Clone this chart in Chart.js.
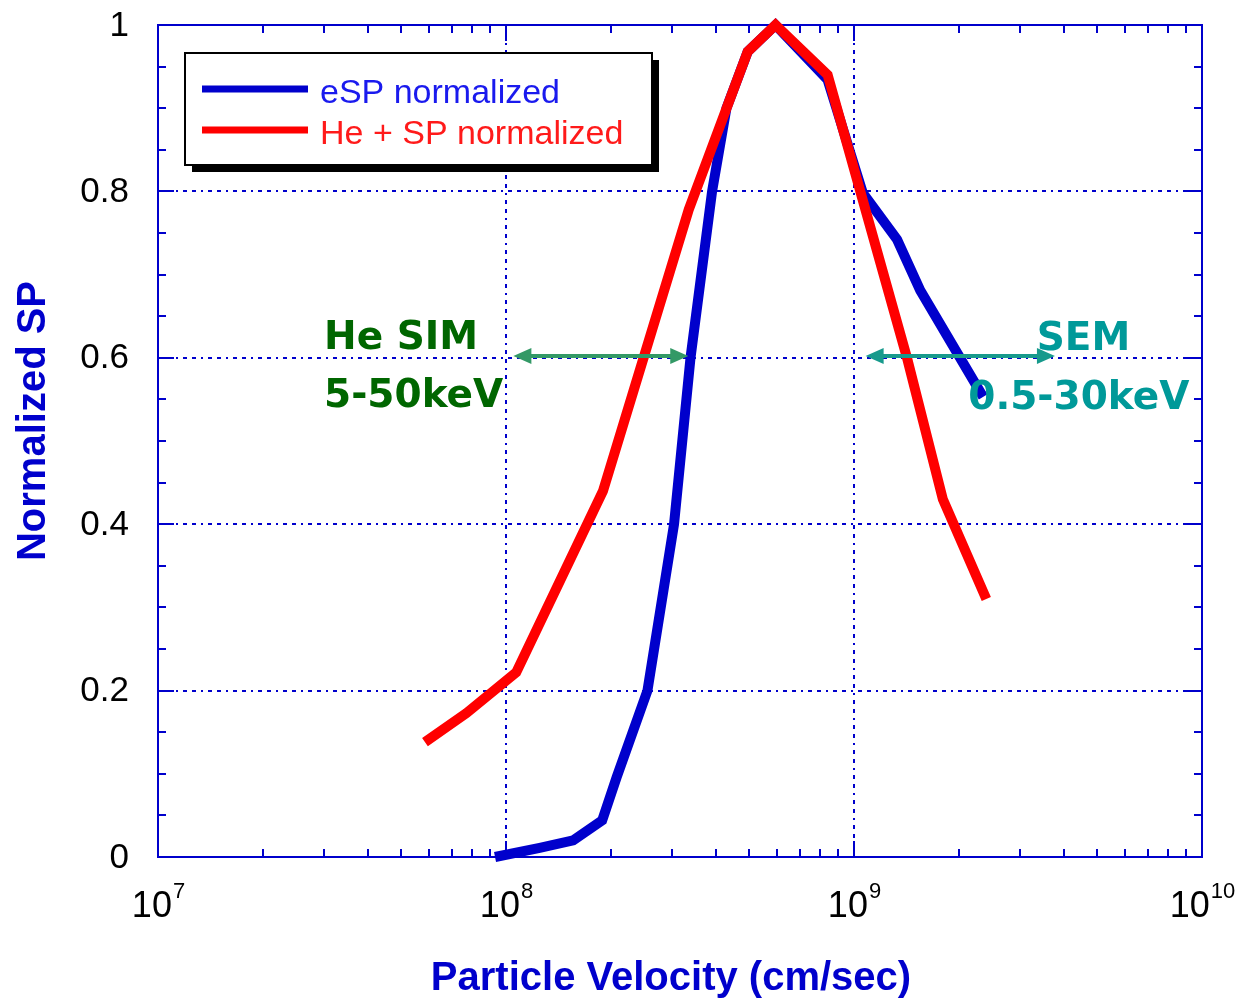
<!DOCTYPE html>
<html><head><meta charset="utf-8">
<script src="https://cdn.jsdelivr.net/npm/chart.js@4.4.0/dist/chart.umd.min.js"></script>
<style>html,body{margin:0;padding:0;background:#fff;} #wrap{width:1244px;height:1001px;position:relative;}</style>
</head><body><div id="wrap"><canvas id="c"></canvas></div>
<script>
// ---- data ----
const seriesNames = ['eSP normalized', 'He + SP normalized'];
const espVelocity = [9.3e7, 1.25e8, 1.56e8, 1.89e8, 2.08e8, 2.55e8, 3.04e8, 3.39e8, 3.91e8, 4.3e8, 4.95e8, 5.95e8, 8.4e8, 1.06e9, 1.33e9, 1.55e9, 2.35e9];
const espValues   = [0.0, 0.011, 0.02, 0.044, 0.096, 0.2, 0.4, 0.6, 0.8, 0.9, 0.968, 1.0, 0.934, 0.798, 0.742, 0.681, 0.553];
const heVelocity  = [5.85e7, 7.7e7, 1.07e8, 1.9e8, 3.35e8, 4.95e8, 5.95e8, 8.4e8, 1.42e9, 1.8e9, 2.4e9];
const heValues    = [0.138, 0.173, 0.222, 0.44, 0.778, 0.968, 1.0, 0.94, 0.60, 0.43, 0.31];
const xTickExponents = [7, 8, 9, 10];
const yTickValues = [0, 0.2, 0.4, 0.6, 0.8, 1];
const yTickLabels = ['0', '0.2', '0.4', '0.6', '0.8', '1'];
const xTitle = 'Particle Velocity (cm/sec)';
const yTitle = 'Normalized SP';
const heRange = [1.05e8, 3.34e8];   // He SIM arrow
const semRange = [1.08e9, 3.78e9];  // SEM arrow
const rangeLevel = 0.6;
const heLabels = ['He SIM', '5-50keV'];
const semLabels = ['SEM', '0.5-30keV'];

const AXIS = '#0000cc';
const toXY = (xs, ys) => xs.map((x, i) => ({x, y: ys[i]}));

function arrow(ctx, x1, x2, y, color) {
  ctx.save();
  ctx.strokeStyle = color; ctx.fillStyle = color; ctx.lineWidth = 4;
  const L = 18, H = 8;
  ctx.beginPath(); ctx.moveTo(x1 + L - 2, y); ctx.lineTo(x2 - L + 2, y); ctx.stroke();
  ctx.beginPath(); ctx.moveTo(x1, y); ctx.lineTo(x1 + L, y - H); ctx.lineTo(x1 + L, y + H); ctx.closePath(); ctx.fill();
  ctx.beginPath(); ctx.moveTo(x2, y); ctx.lineTo(x2 - L, y - H); ctx.lineTo(x2 - L, y + H); ctx.closePath(); ctx.fill();
  ctx.restore();
}

const framePlugin = {
  id: 'frame',
  beforeDatasetsDraw(chart) {
    const {ctx, chartArea: a, scales: {x, y}} = chart;
    ctx.save();
    // grid (dash-dot)
    ctx.strokeStyle = AXIS; ctx.lineWidth = 2;
    ctx.setLineDash([4, 5, 4, 5, 2, 5]);
    yTickValues.forEach(v => {
      if (v <= 0 || v >= 1) return;
      const py = Math.round(y.getPixelForValue(v));
      ctx.beginPath(); ctx.moveTo(a.left, py); ctx.lineTo(a.right, py); ctx.stroke();
    });
    xTickExponents.forEach(e => {
      const px = Math.round(x.getPixelForValue(Math.pow(10, e)));
      if (px <= a.left + 2 || px >= a.right - 2) return;
      ctx.beginPath(); ctx.moveTo(px, a.top); ctx.lineTo(px, a.bottom); ctx.stroke();
    });
    ctx.setLineDash([]);
    // ticks
    ctx.lineWidth = 2;
    const xt = [];
    for (let e = xTickExponents[0]; e < xTickExponents[xTickExponents.length - 1]; e++) {
      for (let m = 1; m <= 9; m++) xt.push({v: m * Math.pow(10, e), major: m === 1});
    }
    xt.forEach(t => {
      const px = Math.round(x.getPixelForValue(t.v));
      const len = t.major ? 16 : 8;
      ctx.beginPath();
      ctx.moveTo(px, a.bottom); ctx.lineTo(px, a.bottom - len);
      ctx.moveTo(px, a.top); ctx.lineTo(px, a.top + len);
      ctx.stroke();
    });
    for (let i = 0; i <= 20; i++) {
      const v = i * 0.05;
      const py = Math.round(y.getPixelForValue(v));
      const len = (i % 4 === 0) ? 16 : 8;
      ctx.beginPath();
      ctx.moveTo(a.left, py); ctx.lineTo(a.left + len, py);
      ctx.moveTo(a.right, py); ctx.lineTo(a.right - len, py);
      ctx.stroke();
    }
    // frame
    ctx.strokeRect(Math.round(a.left), Math.round(a.top), Math.round(a.right - a.left), Math.round(a.bottom - a.top));
    // tick labels
    ctx.fillStyle = '#000';
    ctx.font = '35px "Liberation Sans", Arial, sans-serif';
    ctx.textAlign = 'right'; ctx.textBaseline = 'middle';
    yTickValues.forEach((v, i) => {
      ctx.fillText(yTickLabels[i], a.left - 29, y.getPixelForValue(v) + 1);
    });
    ctx.textBaseline = 'alphabetic'; ctx.textAlign = 'left';
    xTickExponents.forEach(e => {
      const px = x.getPixelForValue(Math.pow(10, e));
      ctx.font = '36px "Liberation Sans", Arial, sans-serif';
      const w1 = ctx.measureText('10').width;
      ctx.font = '22px "Liberation Sans", Arial, sans-serif';
      const w2 = ctx.measureText(String(e)).width;
      const x0 = px - (w1 + w2) / 2;
      ctx.font = '36px "Liberation Sans", Arial, sans-serif';
      ctx.fillText('10', x0, a.bottom + 60);
      ctx.font = '22px "Liberation Sans", Arial, sans-serif';
      ctx.fillText(String(e), x0 + w1 + 1, a.bottom + 41);
    });
    // axis titles
    ctx.fillStyle = AXIS;
    ctx.font = 'bold 40px "Liberation Sans", Arial, sans-serif';
    ctx.textAlign = 'center';
    ctx.fillText(xTitle, (a.left + a.right) / 2 - 9, a.bottom + 133);
    ctx.save();
    ctx.translate(45, (a.top + a.bottom) / 2 - 20);
    ctx.rotate(-Math.PI / 2);
    ctx.fillText(yTitle, 0, 0);
    ctx.restore();
    ctx.restore();
  },
  afterDatasetsDraw(chart) {
    const {ctx, chartArea: a, scales: {x, y}} = chart;
    ctx.save();
    // legend
    const bx = a.left + 27, by = a.top + 28, bw = 467, bh = 112;
    ctx.fillStyle = '#000';
    ctx.fillRect(bx + 7, by + 7, bw, bh);
    ctx.fillStyle = '#fff';
    ctx.fillRect(bx, by, bw, bh);
    ctx.strokeStyle = '#000'; ctx.lineWidth = 2;
    ctx.strokeRect(bx, by, bw, bh);
    const ds = chart.data.datasets;
    ctx.font = '34px "Liberation Sans", Arial, sans-serif';
    ctx.textAlign = 'left'; ctx.textBaseline = 'alphabetic';
    ds.forEach((d, i) => {
      const ly = by + 36 + i * 41;
      ctx.strokeStyle = d.borderColor; ctx.lineWidth = 7;
      ctx.beginPath(); ctx.moveTo(bx + 17, ly); ctx.lineTo(bx + 123, ly); ctx.stroke();
      ctx.fillStyle = d.legendText;
      ctx.fillText(d.label, bx + 135, ly + 14);
    });
    // range annotations
    const yl = Math.round(y.getPixelForValue(rangeLevel)) - 2;
    arrow(ctx, x.getPixelForValue(heRange[0]), x.getPixelForValue(heRange[1]), yl, '#339966');
    arrow(ctx, x.getPixelForValue(semRange[0]), x.getPixelForValue(semRange[1]), yl, '#179a8c');
    ctx.font = 'bold 39px "DejaVu Sans", sans-serif';
    ctx.fillStyle = '#006600';
    ctx.fillText(heLabels[0], x.getPixelForValue(3.0e7), yl - 7);
    ctx.fillText(heLabels[1], x.getPixelForValue(3.0e7), yl + 51);
    ctx.fillStyle = '#009999';
    ctx.fillText(semLabels[0], x.getPixelForValue(3.35e9), yl - 6);
    ctx.fillText(semLabels[1], x.getPixelForValue(2.13e9), yl + 53);
    ctx.restore();
  }
};

new Chart(document.getElementById('c'), {
  type: 'line',
  data: {
    datasets: [
      {label: seriesNames[0], data: toXY(espVelocity, espValues), borderColor: '#0000cc', legendText: '#1a1aee',
       borderWidth: 10, pointRadius: 0, tension: 0, order: 1, clip: false, borderJoinStyle: 'miter', borderCapStyle: 'butt'},
      {label: seriesNames[1], data: toXY(heVelocity, heValues), borderColor: '#ff0000', legendText: '#ff1a1a',
       borderWidth: 10, pointRadius: 0, tension: 0, order: 0, clip: false, borderJoinStyle: 'miter', borderCapStyle: 'butt'}
    ]
  },
  options: {
    responsive: true, maintainAspectRatio: false, animation: false,
    layout: {padding: {top: 25, right: 42, left: 0, bottom: 0}},
    plugins: {legend: {display: false}, tooltip: {enabled: false}},
    scales: {
      x: {type: 'logarithmic', min: 1e7, max: 1e10,
          grid: {display: false}, border: {display: false}, ticks: {display: false},
          afterFit: s => { s.height = 144; }},
      y: {type: 'linear', min: 0, max: 1,
          grid: {display: false}, border: {display: false}, ticks: {display: false},
          afterFit: s => { s.width = 158; }}
    }
  },
  plugins: [framePlugin]
});
</script>
</body></html>
